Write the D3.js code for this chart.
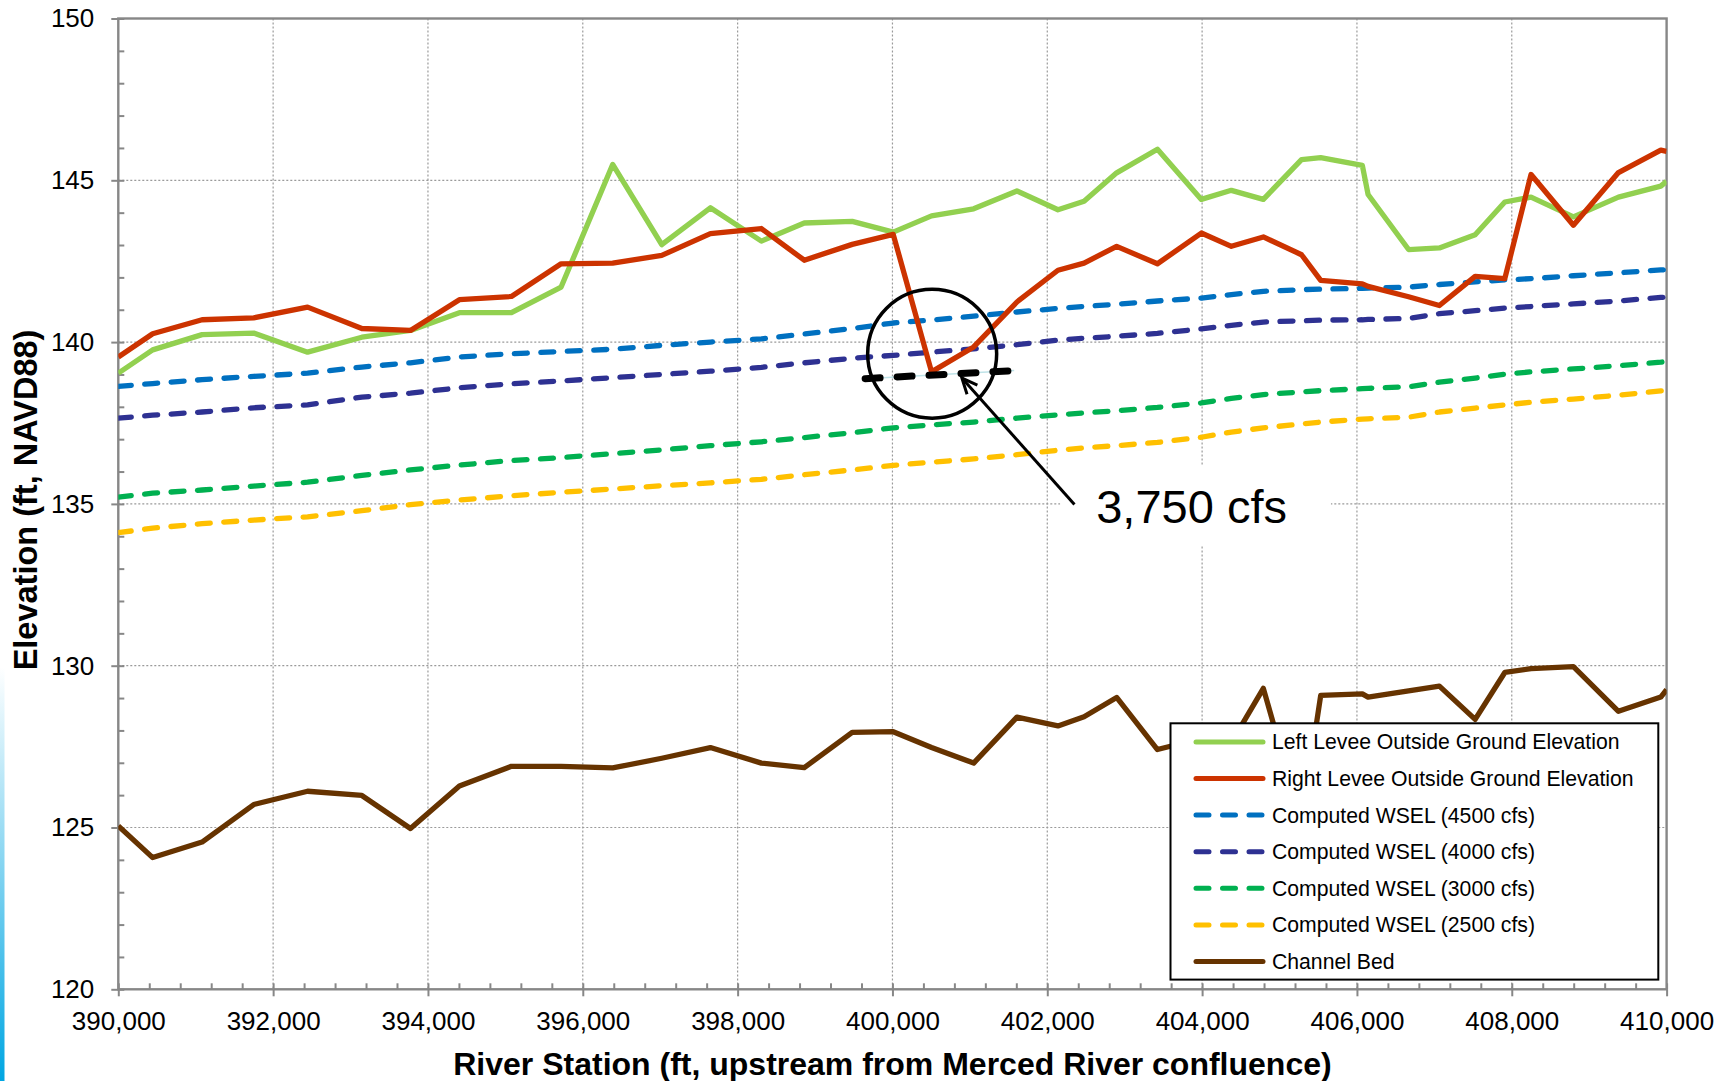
<!DOCTYPE html>
<html>
<head>
<meta charset="utf-8">
<script src="https://cdn.jsdelivr.net/npm/d3@7"></script>
<style>
  body { margin: 0; background: #fff; }
  svg { display: block; font-family: "Liberation Sans", Arial, sans-serif; }
</style>
</head>
<body>
<div id="chart"></div>
<script>
// river stations (ft)
var stations = [390000, 390444, 391082, 391749, 392445, 393146, 393774, 394406, 395078, 395720,
  396386, 397020, 397648, 398307, 398861, 399480, 400010, 400505, 401049, 401608,
  402138, 402475, 402896, 403423, 403990, 404378, 404791, 405284, 405532, 406070,
  406144, 406667, 407065, 407527, 407910, 408249, 408796, 409378, 409925, 410000];

var leftLevee = [139.04, 139.76, 140.23, 140.28, 139.69, 140.15, 140.36, 140.91, 140.91, 141.70,
  145.49, 143.01, 144.15, 143.12, 143.68, 143.73, 143.40, 143.90, 144.12, 144.67,
  144.09, 144.35, 145.23, 145.96, 144.41, 144.69, 144.41, 145.64, 145.70, 145.46,
  144.56, 142.86, 142.91, 143.32, 144.33, 144.48, 143.87, 144.48, 144.82, 144.97];

var rightLevee = [139.54, 140.26, 140.69, 140.75, 141.08, 140.42, 140.36, 141.31, 141.41, 142.42,
  142.44, 142.68, 143.35, 143.51, 142.53, 143.02, 143.33, 139.08, 139.85, 141.24,
  142.22, 142.44, 142.96, 142.42, 143.37, 142.96, 143.25, 142.70, 141.91, 141.80,
  141.72, 141.40, 141.13, 142.03, 141.96, 145.18, 143.61, 145.24, 145.93, 145.89];

var wsel4500 = [138.63, 138.72, 138.84, 138.94, 139.04, 139.23, 139.36, 139.54, 139.64, 139.71,
  139.78, 139.90, 140.00, 140.10, 140.25, 140.42, 140.59, 140.68, 140.80, 140.93,
  141.04, 141.10, 141.17, 141.27, 141.36, 141.47, 141.57, 141.62, 141.64, 141.66,
  141.67, 141.70, 141.78, 141.86, 141.92, 141.96, 142.05, 142.14, 142.23, 142.24];

var wsel4000 = [137.65, 137.74, 137.84, 137.97, 138.06, 138.30, 138.42, 138.59, 138.71, 138.80,
  138.90, 139.00, 139.10, 139.22, 139.36, 139.50, 139.59, 139.69, 139.79, 139.92,
  140.06, 140.12, 140.18, 140.27, 140.41, 140.52, 140.62, 140.66, 140.68, 140.69,
  140.70, 140.73, 140.88, 140.97, 141.05, 141.10, 141.18, 141.27, 141.38, 141.39];

var wsel3000 = [135.21, 135.33, 135.43, 135.55, 135.67, 135.88, 136.05, 136.20, 136.34, 136.43,
  136.55, 136.67, 136.80, 136.92, 137.05, 137.20, 137.35, 137.44, 137.53, 137.65,
  137.75, 137.81, 137.88, 137.98, 138.12, 138.26, 138.38, 138.46, 138.50, 138.56,
  138.57, 138.62, 138.76, 138.89, 139.01, 139.08, 139.17, 139.27, 139.38, 139.40];

var wsel2500 = [134.11, 134.25, 134.39, 134.50, 134.60, 134.79, 134.98, 135.12, 135.25, 135.36,
  135.46, 135.56, 135.65, 135.76, 135.90, 136.05, 136.19, 136.29, 136.39, 136.52,
  136.66, 136.73, 136.80, 136.90, 137.06, 137.22, 137.35, 137.47, 137.53, 137.62,
  137.63, 137.68, 137.84, 137.96, 138.06, 138.14, 138.24, 138.36, 138.49, 138.51];

var channelBed = [125.05, 124.07, 124.55, 125.71, 126.12, 125.99, 124.97, 126.28, 126.89, 126.89,
  126.84, 127.14, 127.47, 126.99, 126.85, 127.94, 127.96, 127.47, 126.99, 128.41,
  128.14, 128.42, 129.02, 127.41, 127.75, 127.62, 129.30, 125.16, 129.08, 129.13,
  129.03, 129.22, 129.37, 128.34, 129.79, 129.91, 129.97, 128.59, 129.03, 129.26];

var seriesNames = ["Left Levee Outside Ground Elevation", "Right Levee Outside Ground Elevation",
  "Computed WSEL (4500 cfs)", "Computed WSEL (4000 cfs)", "Computed WSEL (3000 cfs)",
  "Computed WSEL (2500 cfs)", "Channel Bed"];

var xTicks = [390000, 392000, 394000, 396000, 398000, 400000, 402000, 404000, 406000, 408000, 410000];
var yTicks = [120, 125, 130, 135, 140, 145, 150];

// 3,750 cfs annotation: dashed segment, circle centre, arrow tip/tail, label anchor
var flow3750Station = [399647, 401572];
var flow3750Wsel = [138.87, 139.12];
var circleCenter = [400513, 139.64];
var arrowTip = [400897, 138.89];
var arrowTail = [402351, 134.98];
var labelAnchor = [402632, 134.41];
var labelText = "3,750 cfs";

var width = 1734, height = 1081;
var plotLeft = 118.3, plotRight = 1666.6, plotTop = 18.5, plotBottom = 989.3;

var colors = ["#92D050", "#CC3300", "#0070C0", "#2E3192", "#00B050", "#FFC000", "#663300"];
var dashed = [false, false, true, true, true, true, false];
var allSeries = [leftLevee, rightLevee, wsel4500, wsel4000, wsel3000, wsel2500, channelBed];
var drawOrder = [6, 5, 4, 3, 2, 0, 1];

var x = d3.scaleLinear().domain([390000, 410000]).range([plotLeft, plotRight]);
var y = d3.scaleLinear().domain([120, 150]).range([plotBottom, plotTop]);

var svg = d3.select("#chart").append("svg")
  .attr("width", width)
  .attr("height", height);

var defs = svg.append("defs");
defs.append("clipPath").attr("id", "plotClip")
  .append("rect")
  .attr("x", plotLeft).attr("y", plotTop)
  .attr("width", plotRight - plotLeft).attr("height", plotBottom - plotTop);

var grad = defs.append("linearGradient").attr("id", "edgeGrad")
  .attr("x1", 0).attr("y1", 0).attr("x2", 0).attr("y2", 1);
grad.append("stop").attr("offset", "0%").attr("stop-color", "#ffffff");
grad.append("stop").attr("offset", "100%").attr("stop-color", "#00a6e2");

// slide edge strip
svg.append("rect")
  .attr("x", 0).attr("y", 667).attr("width", 4.5).attr("height", height - 667)
  .attr("fill", "url(#edgeGrad)");

// gridlines
var grid = svg.append("g").attr("class", "grid");
grid.selectAll(".vgrid")
  .data(xTicks.slice(1, -1))
  .enter().append("line")
  .attr("x1", function(d) { return x(d); })
  .attr("x2", function(d) { return x(d); })
  .attr("y1", plotTop).attr("y2", plotBottom)
  .attr("stroke", "#9a9a9a").attr("stroke-width", 1.2)
  .attr("stroke-dasharray", "2,2");
grid.selectAll(".hgrid")
  .data(yTicks.slice(1, -1))
  .enter().append("line")
  .attr("y1", function(d) { return y(d); })
  .attr("y2", function(d) { return y(d); })
  .attr("x1", plotLeft).attr("x2", plotRight)
  .attr("stroke", "#9a9a9a").attr("stroke-width", 1.2)
  .attr("stroke-dasharray", "2,2");

// frame
svg.append("rect")
  .attr("x", plotLeft).attr("y", plotTop)
  .attr("width", plotRight - plotLeft).attr("height", plotBottom - plotTop)
  .attr("fill", "none")
  .attr("stroke", "#878787")
  .attr("stroke-width", 2.4);

// axes
var axisColor = "#878787";
var minorX = d3.range(390000, 410001, 400);
var minorY = d3.range(120, 150.01, 1);

var xMajor = svg.append("g")
  .attr("transform", "translate(0," + plotBottom + ")")
  .call(d3.axisBottom(x).tickValues(xTicks).tickFormat(d3.format(",")).tickSizeOuter(0).tickSize(7).tickPadding(15));
var xMinor = svg.append("g")
  .attr("transform", "translate(0," + plotBottom + ")")
  .call(d3.axisBottom(x).tickValues(minorX).tickFormat("").tickSizeOuter(0).tickSize(-6));
var yMajor = svg.append("g")
  .attr("transform", "translate(" + plotLeft + ",0)")
  .call(d3.axisLeft(y).tickValues(yTicks).tickFormat(d3.format("d")).tickSizeOuter(0).tickSize(7).tickPadding(17));
var yMinor = svg.append("g")
  .attr("transform", "translate(" + plotLeft + ",0)")
  .call(d3.axisLeft(y).tickValues(minorY).tickFormat("").tickSizeOuter(0).tickSize(-6));

[xMajor, xMinor, yMajor, yMinor].forEach(function(g) {
  g.select(".domain").remove();
  g.selectAll(".tick line").attr("stroke", axisColor).attr("stroke-width", 2);
  g.selectAll(".tick text")
    .attr("fill", "#000")
    .style("font-family", "'Liberation Sans', Arial, sans-serif")
    .style("font-size", "26px");
});

// series lines
var line = d3.line()
  .x(function(d) { return x(d[0]); })
  .y(function(d) { return y(d[1]); });

var linesG = svg.append("g").attr("clip-path", "url(#plotClip)");
drawOrder.forEach(function(i) {
  var pts = stations.map(function(s, k) { return [s, allSeries[i][k]]; });
  linesG.append("path")
    .datum(pts)
    .attr("d", line)
    .attr("fill", "none")
    .attr("stroke", colors[i])
    .attr("stroke-width", 5.3)
    .attr("stroke-linejoin", "round")
    .attr("stroke-linecap", dashed[i] ? "round" : "butt")
    .attr("stroke-dasharray", dashed[i] ? "13,13.5" : null);
});

// legend
var legX = 1170.5, legY = 723.3, legW = 487.8, legH = 256.3;
var legend = svg.append("g");
legend.append("rect")
  .attr("x", legX).attr("y", legY).attr("width", legW).attr("height", legH)
  .attr("fill", "#fff").attr("stroke", "#000").attr("stroke-width", 2);
seriesNames.forEach(function(name, i) {
  var cy = legY + 18.6 + i * 36.6;
  legend.append("line")
    .attr("x1", 1196).attr("x2", 1263).attr("y1", cy).attr("y2", cy)
    .attr("stroke", colors[i]).attr("stroke-width", 5)
    .attr("stroke-linecap", "round")
    .attr("stroke-dasharray", dashed[i] ? "13,13.5" : null);
  legend.append("text")
    .attr("x", 1272).attr("y", cy).attr("dy", "0.35em")
    .style("font-size", "21.2px").attr("fill", "#000")
    .text(name);
});

// annotation label with white box
var ann = svg.append("g");
var boxRect = ann.append("rect").attr("fill", "#fff");
var label = ann.append("text")
  .attr("x", x(labelAnchor[0])).attr("y", y(labelAnchor[1]))
  .style("font-size", "47px").attr("fill", "#000")
  .text(labelText);
var bb = label.node().getBBox();
boxRect.attr("x", bb.x - 36).attr("y", bb.y - 14)
  .attr("width", bb.width + 80).attr("height", bb.height + 27);

// thin computed line under the black dashes
var segPts = flow3750Station.map(function(s, k) { return [s, flow3750Wsel[k]]; });
ann.append("path").datum(segPts).attr("d", line)
  .attr("fill", "none").attr("stroke", "#bfe3e8").attr("stroke-width", 1.5);
ann.append("path").datum(segPts).attr("d", line)
  .attr("fill", "none").attr("stroke", "#000").attr("stroke-width", 7)
  .attr("stroke-linecap", "round").attr("stroke-dasharray", "15,17");

// circle
ann.append("circle")
  .attr("cx", x(circleCenter[0])).attr("cy", y(circleCenter[1]))
  .attr("r", 64.5)
  .attr("fill", "none").attr("stroke", "#000").attr("stroke-width", 3.5);

// arrow
var tx = x(arrowTip[0]), ty = y(arrowTip[1]);
var sx = x(arrowTail[0]), sy = y(arrowTail[1]);
ann.append("line")
  .attr("x1", sx).attr("y1", sy).attr("x2", tx).attr("y2", ty)
  .attr("stroke", "#000").attr("stroke-width", 3);
var ang = Math.atan2(sy - ty, sx - tx);
var headLen = 17, spread = 0.42;
ann.append("path")
  .attr("d", "M" + (tx + headLen * Math.cos(ang - spread)) + "," + (ty + headLen * Math.sin(ang - spread)) +
    "L" + tx + "," + ty +
    "L" + (tx + headLen * Math.cos(ang + spread)) + "," + (ty + headLen * Math.sin(ang + spread)))
  .attr("fill", "none").attr("stroke", "#000").attr("stroke-width", 3)
  .attr("stroke-linejoin", "miter");

// axis titles
svg.append("text")
  .attr("x", (plotLeft + plotRight) / 2).attr("y", 1075)
  .attr("text-anchor", "middle")
  .style("font-size", "32px").style("font-weight", "bold")
  .text("River Station (ft, upstream from Merced River confluence)");

svg.append("text")
  .attr("transform", "translate(37,500) rotate(-90)")
  .attr("text-anchor", "middle")
  .style("font-size", "32.5px").style("font-weight", "bold")
  .text("Elevation (ft, NAVD88)");
</script>
</body>
</html>
